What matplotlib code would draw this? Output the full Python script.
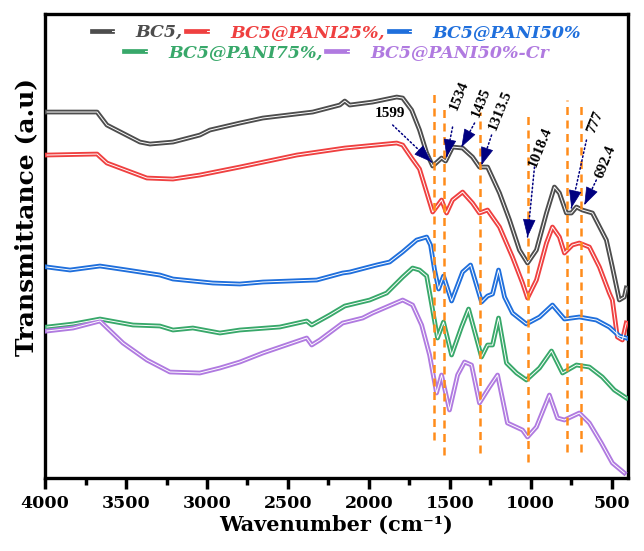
import matplotlib
matplotlib.use("Agg")
import numpy as np
import matplotlib.pyplot as plt
from matplotlib.lines import Line2D
from matplotlib.legend_handler import HandlerTuple

# FTIR widma, transmitancja w j.u.
wn_bc5 = [3988, 3679, 3618, 3414, 3352, 3210, 3044, 2982, 2797, 2655, 2347, 2180, 2149, 2118,
          1977, 1828, 1791, 1736, 1687, 1643, 1606, 1551, 1526, 1483, 1421, 1360, 1317, 1267,
          1193, 1131, 1070, 1020, 965, 903, 854, 823, 780, 749, 718, 681, 619, 533, 496, 453,
          422, 410]
t_bc5 = [366, 366, 353, 336, 334, 336, 343, 348, 355, 360, 366, 373, 377, 373,
         376, 381, 380, 368, 348, 325, 312, 320, 317, 331, 330, 321, 311, 311,
         285, 258, 228, 215, 228, 265, 291, 285, 265, 265, 271, 268, 265, 238, 211, 178,
         181, 190]

wn_p25 = [3988, 3679, 3618, 3371, 3210, 3044, 2797, 2445, 2149, 1828, 1791, 1736, 1687, 1606,
          1551, 1520, 1483, 1421, 1360, 1317, 1267, 1193, 1113, 1051, 1020, 965, 903, 866,
          823, 792, 743, 700, 638, 576, 515, 496, 465, 434, 410]
t_p25 = [323, 324, 315, 300, 299, 303, 311, 323, 330, 335, 333, 320, 309, 266,
         278, 265, 278, 286, 275, 265, 268, 251, 221, 195, 180, 198, 235, 251,
         241, 225, 233, 235, 231, 211, 185, 178, 141, 138, 155]

wn_p50 = [3988, 3846, 3661, 3494, 3291, 3210, 2964, 2797, 2655, 2322, 2162, 2118, 1952, 1872,
          1792, 1705, 1643, 1619, 1594, 1569, 1539, 1489, 1421, 1372, 1304, 1267, 1236, 1199,
          1162, 1113, 1027, 946, 866, 792, 700, 595, 515, 453, 410]
t_p50 = [211, 208, 212, 208, 203, 199, 195, 194, 196, 198, 205, 206, 213, 216,
         226, 238, 241, 233, 208, 189, 202, 177, 206, 213, 176, 182, 184, 208,
         181, 165, 154, 161, 173, 159, 161, 158, 151, 142, 140]

wn_p75 = [3988, 3827, 3661, 3457, 3291, 3210, 3087, 2920, 2797, 2550, 2384, 2353, 2242, 2149,
          1995, 1890, 1791, 1730, 1687, 1643, 1606, 1576, 1539, 1489, 1428, 1384, 1304, 1267,
          1236, 1199, 1150, 1088, 1027, 946, 872, 804, 718, 638, 558, 484, 410]
t_p75 = [151, 154, 159, 153, 152, 148, 150, 145, 148, 151, 157, 153, 163, 172,
         178, 185, 201, 210, 208, 202, 168, 140, 156, 123, 151, 169, 121, 133,
         133, 160, 115, 105, 98, 110, 127, 105, 113, 111, 101, 88, 80]

wn_cr = [3988, 3827, 3661, 3519, 3371, 3229, 3044, 2920, 2797, 2655, 2384, 2353, 2303, 2162,
         2038, 1977, 1791, 1730, 1674, 1625, 1582, 1551, 1502, 1452, 1409, 1366, 1317, 1255,
         1205, 1144, 1051, 1020, 965, 885, 835, 792, 700, 638, 564, 496, 422]
t_cr = [147, 150, 157, 135, 118, 106, 105, 110, 116, 125, 140, 133, 138, 155,
        160, 165, 178, 173, 153, 123, 85, 103, 68, 103, 116, 113, 75, 91,
        103, 55, 48, 41, 51, 83, 60, 58, 65, 55, 35, 15, 5]

series = [
    (wn_bc5, t_bc5, "BC5,", "#4d4d4d"),
    (wn_p25, t_p25, "BC5@PANI25%,", "#ef4040"),
    (wn_p50, t_p50, "BC5@PANI50%", "#1f6fdc"),
    (wn_p75, t_p75, "BC5@PANI75%,", "#38a86a"),
    (wn_cr, t_cr, "BC5@PANI50%-Cr", "#b07ae0"),
]

# Linie przerywane (pasma) i ich dolne/gorne konce
bands = [1599, 1534, 1313.5, 1018.4, 777, 692.4]
band_low = [38, 23, 25, 16, 26, 26]
band_high = [388, 373, 366, 366, 378, 376]

# Opisy pasm: tekst, polozenie tekstu, ogon i grot strzalki
labels = ["1599", "1534", "1435", "1313.5", "1018.4", "777", "692.4"]
label_pos = [(1872, 365), (1440, 382), (1304, 375), (1187, 368), (940, 331), (601, 356), (539, 316)]
label_rot = [0, 68, 68, 68, 68, 68, 68]
arrow_tail = [(1853, 353), (1483, 351), (1347, 355), (1242, 343), (977, 311), (656, 338), (595, 298)]
arrow_tip = [(1613, 316), (1520, 321), (1428, 331), (1304, 313), (1020, 241), (749, 270), (669, 273)]

fig = plt.figure(figsize=(6.44, 5.51), dpi=100)
ax = fig.add_axes([0.07, 0.1325, 0.905, 0.842])

handles = []
for wn, t, name, col in series:
    ax.plot(wn, t, color=col, lw=3.4, solid_joinstyle="round", zorder=3)
    ax.plot(wn, t, color="white", lw=0.7, zorder=4)
    handles.append((Line2D([], [], color=col, lw=3.4), Line2D([], [], color="white", lw=0.7)))

for b, lo, hi in zip(bands, band_low, band_high):
    ax.plot([b, b], [lo, hi], color="#ff8c1a", lw=1.8, dashes=(3.2, 2.2), zorder=5)

ax.set_xlim(4000, 400)
ax.set_ylim(0, 464)

# strzalki: kropkowana linia + pelny grot
for txt, pos, rot, tail, tip in zip(labels, label_pos, label_rot, arrow_tail, arrow_tip):
    ax.text(pos[0], pos[1], txt, rotation=rot, ha="center", va="center",
            family="Liberation Serif", weight="bold", fontsize=11, zorder=7)
    ax.annotate("", xy=tip, xytext=tail,
                arrowprops=dict(arrowstyle="-", linestyle=":", lw=1.1, color="#000080",
                                shrinkA=0, shrinkB=0), zorder=6)
    p_tail = ax.transData.transform(tail)
    p_tip = ax.transData.transform(tip)
    d = (p_tail - p_tip) / np.hypot(*(p_tail - p_tip))
    head_base = ax.transData.inverted().transform(p_tip + d * 11)
    ax.annotate("", xy=tip, xytext=head_base,
                arrowprops=dict(arrowstyle="-|>,head_length=0.45,head_width=0.16", lw=0.5,
                                color="#000080", mutation_scale=26, shrinkA=0, shrinkB=0), zorder=6)

ax.set_xticks([4000, 3500, 3000, 2500, 2000, 1500, 1000, 500])
ax.set_xticks(range(3750, 400, -500), minor=True)
ax.set_yticks([])
for lab in ax.get_xticklabels():
    lab.set_fontweight("bold")
    lab.set_family("DejaVu Serif")
ax.tick_params(axis="x", which="major", direction="out", length=8, width=2.5, labelsize=12.5, pad=4)
ax.tick_params(axis="x", which="minor", direction="out", length=5, width=2.5)
for s in ax.spines.values():
    s.set_linewidth(2.4)

ax.set_xlabel("Wavenumber (cm\u207b\u00b9)", family="DejaVu Serif", weight="bold", fontsize=15, labelpad=2)
ax.set_ylabel("Transmittance (a.u)", family="DejaVu Serif", weight="bold", fontsize=18)
ax.yaxis.set_label_coords(-0.012, 0.5625)

# Legenda w dwoch wierszach
leg_kw = dict(frameon=False, handlelength=2.4, handletextpad=0.15, columnspacing=0.2,
              handler_map={tuple: HandlerTuple(ndivide=None, pad=0)},
              prop=dict(family="DejaVu Serif", weight="bold", style="italic", size=12.5),
              loc="center", borderpad=0)
leg1 = ax.legend(handles[:3], [s[2] for s in series[:3]], ncol=3, bbox_to_anchor=(0.5, 0.961), **leg_kw)
for t, s in zip(leg1.get_texts(), series[:3]):
    t.set_color(s[3])
ax.add_artist(leg1)
leg2 = ax.legend(handles[3:], [s[2] for s in series[3:]], ncol=2, bbox_to_anchor=(0.5, 0.918), **leg_kw)
for t, s in zip(leg2.get_texts(), series[3:]):
    t.set_color(s[3])

plt.savefig("out.png", dpi=100)
